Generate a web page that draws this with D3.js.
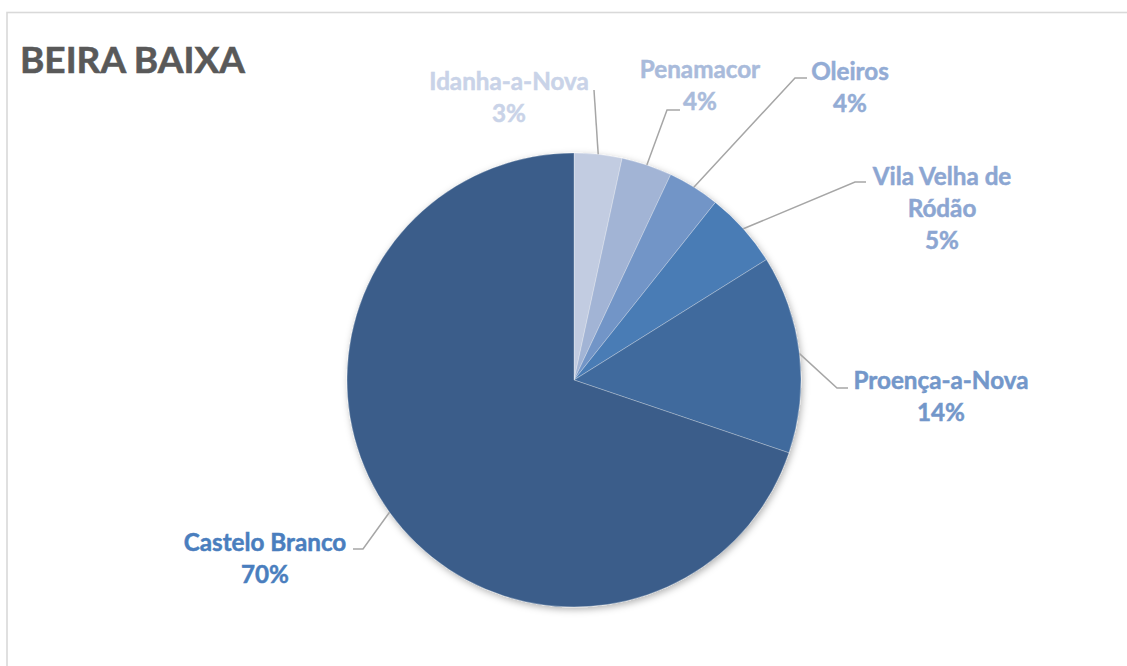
<!DOCTYPE html>
<html>
<head>
<meta charset="utf-8">
<script src="https://cdn.jsdelivr.net/npm/d3@7"></script>
<style>
  html, body { margin: 0; padding: 0; background: #fff; overflow: hidden; }
  svg { display: block; font-family: Lato, "Open Sans", sans-serif; }
</style>
</head>
<body>
<div id="chart"></div>
<script>
// data
const title = "BEIRA BAIXA";
const municipios = ["Idanha-a-Nova", "Penamacor", "Oleiros", "Vila Velha de Ródão", "Proença-a-Nova", "Castelo Branco"];
const shares = [3.4, 3.6, 3.7, 5.4, 14.1, 69.8];

const sliceColors = ["#c2cce1", "#a2b4d5", "#7295c7", "#4a7bb5", "#416b9d", "#3a5d8a"];
const labelColors = ["#c9d3e8", "#a9bbdb", "#93acd5", "#8ca6d2", "#7397ca", "#4a7ebe"];

// label placement relative to the pie centre (Excel puts them by hand-ish rules)
// lx/ly = label centre x / first baseline, ax/ay = end of leader, elbow = horizontal run
const labelLayout = [
  { lx: -65, ly: -290, ax: 20,   ay: -290, elbow: 0 },
  { lx: 126, ly: -302, ax: 106,  ay: -270, elbow: 13 },
  { lx: 276, ly: -300, ax: 233,  ay: -302, elbow: 12 },
  { lx: 368, ly: -195, ax: 292,  ay: -198, elbow: 11 },
  { lx: 367, ly: 9,    ax: 274,  ay: 8,    elbow: 11 },
  { lx: -309, ly: 171, ax: -221, ay: 169,  elbow: -10 }
];

const width = 1127, height = 666;
const cx = 574, cy = 380, radius = 227;

const svg = d3.select("#chart").append("svg")
  .attr("width", width)
  .attr("height", height);

// soft shadow under the pie
const defs = svg.append("defs");
const shadow = defs.append("filter")
  .attr("id", "pieShadow")
  .attr("x", "-20%").attr("y", "-20%")
  .attr("width", "140%").attr("height", "140%");
shadow.append("feDropShadow")
  .attr("dx", 1.5).attr("dy", 2.5)
  .attr("stdDeviation", 3.5)
  .attr("flood-color", "#000")
  .attr("flood-opacity", 0.3);

// chart area border (runs off the right and bottom of the photo)
svg.append("rect")
  .attr("x", 7).attr("y", 12.5)
  .attr("width", 1140).attr("height", 700)
  .attr("fill", "none")
  .attr("stroke", "#d9d9d9")
  .attr("stroke-width", 1.6);

// title
const titleText = svg.append("text")
  .attr("x", 20).attr("y", 73)
  .attr("fill", "#595959")
  .attr("stroke", "#595959")
  .attr("stroke-width", 0.6)
  .style("font-weight", 700)
  .style("font-size", "36px")
  .text(title);
// fit title to the width seen in the reference
const tw = titleText.node().getComputedTextLength();
titleText.style("font-size", (36 * 225 / tw) + "px");

const total = d3.sum(shares);
const pie = d3.pie().sort(null).value(d => d);
const arcs = pie(shares);
const arc = d3.arc().innerRadius(0).outerRadius(radius);

const g = svg.append("g").attr("transform", "translate(" + cx + "," + cy + ")");

g.append("g")
  .attr("filter", "url(#pieShadow)")
  .selectAll("path")
  .data(arcs)
  .enter().append("path")
  .attr("d", arc)
  .attr("fill", (d, i) => sliceColors[i])
  .attr("stroke", "#ffffff")
  .attr("stroke-opacity", 0.35)
  .attr("stroke-width", 0.8);

// leader lines
const leaders = g.append("g");
arcs.forEach(function(d, i) {
  const L = labelLayout[i];
  const mid = (d.startAngle + d.endAngle) / 2;
  const sx = Math.sin(mid) * radius, sy = -Math.cos(mid) * radius;
  const ex = L.ax - L.elbow;
  const pts = [[sx, sy], [ex, L.ay]];
  if (L.elbow !== 0) pts.push([L.ax, L.ay]);
  leaders.append("path")
    .attr("d", d3.line()(pts))
    .attr("fill", "none")
    .attr("stroke", "#a6a6a6")
    .attr("stroke-width", 1.5);
});

// labels
const labels = g.append("g")
  .style("font-weight", 700)
  .attr("text-anchor", "middle");

// work out the label font size from the reference width of "Proença-a-Nova"
const probe = labels.append("text").style("font-size", "24px").text(municipios[4]);
const labelSize = 24 * 175 / probe.node().getComputedTextLength();
probe.remove();
labels.style("font-size", labelSize + "px");
const lineH = 32;

function wrapWords(str, maxW) {
  const words = str.split(" ");
  const lines = [];
  let cur = "";
  const t = labels.append("text");
  words.forEach(function(w) {
    const test = cur ? cur + " " + w : w;
    t.text(test);
    if (cur && t.node().getComputedTextLength() > maxW) {
      lines.push(cur);
      cur = w;
    } else {
      cur = test;
    }
  });
  lines.push(cur);
  t.remove();
  return lines;
}

arcs.forEach(function(d, i) {
  const L = labelLayout[i];
  const lines = wrapWords(municipios[i], 185);
  lines.push(Math.round(d.data / total * 100) + "%");
  const t = labels.append("text")
    .attr("fill", labelColors[i])
    .attr("stroke", labelColors[i])
    .attr("stroke-width", 0.5);
  lines.forEach(function(s, k) {
    t.append("tspan")
      .attr("x", L.lx)
      .attr("y", L.ly + k * lineH)
      .text(s);
  });
});
</script>
</body>
</html>
